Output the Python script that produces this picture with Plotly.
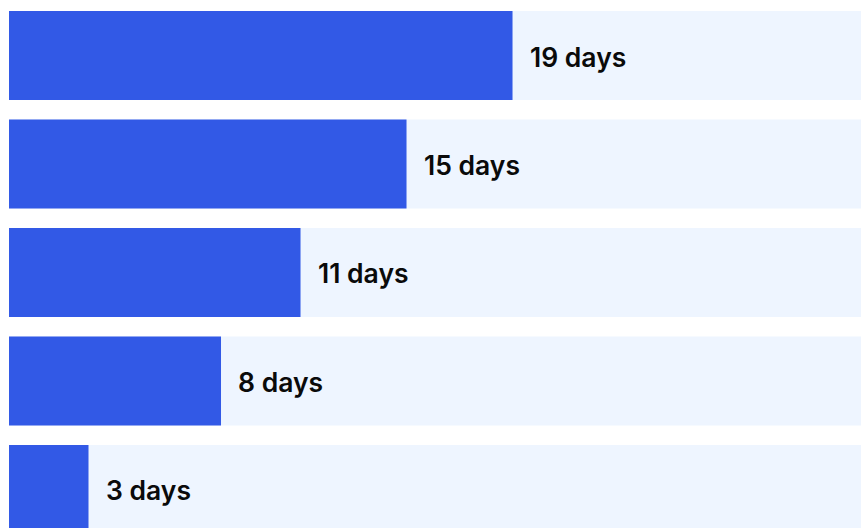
import plotly.graph_objects as go

# Durations shown, top to bottom
categories = ["A", "B", "C", "D", "E"]
days = [19, 15, 11, 8, 3]
labels = ["19 days", "15 days", "11 days", "8 days", "3 days"]

TRACK_MAX = 34  # light background track, runs past the right edge
X_RANGE = [-0.34, 32.15]
Y_RANGE = [4.355, -0.5115]

BLUE = "#3259E6"
TRACK = "#EEF5FF"

ypos = list(range(len(categories)))

fig = go.Figure()

# background tracks
fig.add_trace(go.Bar(
    y=ypos, x=[TRACK_MAX] * len(ypos), orientation="h",
    marker=dict(color=TRACK, line=dict(width=0)),
    width=0.82, hoverinfo="skip", showlegend=False,
))

# value bars
fig.add_trace(go.Bar(
    y=ypos, x=days, orientation="h",
    marker=dict(color=BLUE, line=dict(width=0)),
    width=0.82, hoverinfo="skip", showlegend=False,
))

# value labels just past each bar end
for yi, v, t in zip(ypos, days, labels):
    fig.add_annotation(
        x=v, y=yi, text=t, showarrow=False,
        xanchor="left", yanchor="middle", xshift=15, yshift=-1,
        font=dict(family="Inter", size=26.5, color="#0A0A0A", weight=600),
    )

fig.update_layout(
    width=861, height=528,
    margin=dict(l=0, r=0, t=0, b=0),
    barmode="overlay",
    paper_bgcolor="white", plot_bgcolor="white",
    xaxis=dict(range=X_RANGE, visible=False, fixedrange=True),
    yaxis=dict(range=Y_RANGE, visible=False, fixedrange=True),
    hovermode=False,
)

fig.write_html("out.html", config={"displayModeBar": False})
